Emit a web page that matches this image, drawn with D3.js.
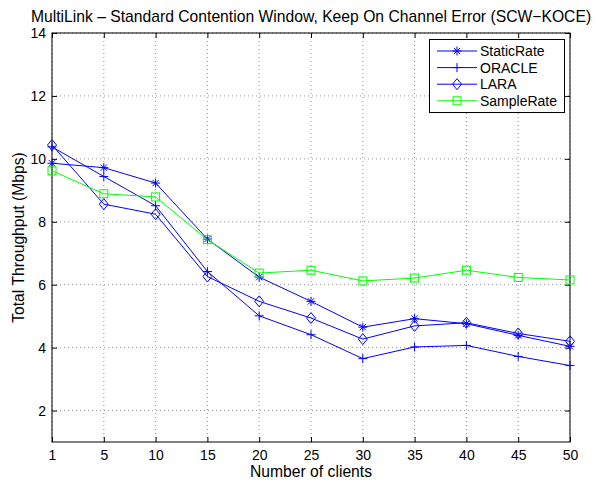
<!DOCTYPE html>
<html>
<head>
<meta charset="utf-8">
<script src="https://cdn.jsdelivr.net/npm/d3@7"></script>
<style>
  body { margin: 0; background: #fff; }
  svg { display: block; font-family: "Liberation Sans", Arial, sans-serif; }
</style>
</head>
<body>
<svg id="chart"></svg>
<script>
const clients = ["1", "5", "10", "15", "20", "25", "30", "35", "40", "45", "50"];
const staticRate = [9.86, 9.72, 9.23, 7.45, 6.24, 5.47, 4.65, 4.92, 4.76, 4.39, 4.04];
const oracle = [10.38, 9.44, 8.51, 6.42, 5.01, 4.41, 3.65, 4.02, 4.07, 3.72, 3.43];
const lara = [10.44, 8.56, 8.24, 6.26, 5.47, 4.94, 4.27, 4.69, 4.79, 4.45, 4.2];
const sampleRate = [9.62, 8.89, 8.79, 7.43, 6.37, 6.46, 6.12, 6.21, 6.46, 6.23, 6.15];
const yTicks = [2, 4, 6, 8, 10, 12, 14];

const series = [
  { name: "StaticRate", values: staticRate, color: "#0000ff", marker: "star" },
  { name: "ORACLE", values: oracle, color: "#0000ff", marker: "plus" },
  { name: "LARA", values: lara, color: "#0000ff", marker: "diamond" },
  { name: "SampleRate", values: sampleRate, color: "#00ff00", marker: "square" }
];

const width = 597, height = 483;
const plotL = 52, plotR = 570, plotT = 33, plotB = 442;

const svg = d3.select("#chart").attr("width", width).attr("height", height);

const x = d3.scalePoint().domain(clients).range([plotL, plotR]);
const y = d3.scaleLinear().domain([1, 14]).range([plotB, plotT]);

// grid (dotted)
const grid = svg.append("g");
grid.selectAll(".gx")
  .data(clients)
  .enter()
  .append("line")
  .attr("x1", d => x(d)).attr("x2", d => x(d))
  .attr("y1", plotT).attr("y2", plotB)
  .attr("stroke", "#777").attr("stroke-width", 0.8)
  .attr("stroke-dasharray", "1,3");
grid.selectAll(".gy")
  .data(yTicks)
  .enter()
  .append("line")
  .attr("x1", plotL).attr("x2", plotR)
  .attr("y1", d => y(d)).attr("y2", d => y(d))
  .attr("stroke", "#777").attr("stroke-width", 0.8)
  .attr("stroke-dasharray", "1,3");

// axes with inward ticks
const axisStyle = g => {
  g.select(".domain").remove();
  g.selectAll("line").attr("stroke", "#000");
  g.selectAll("text").attr("font-size", "14px").attr("fill", "#000");
};

svg.append("g")
  .attr("transform", `translate(0,${plotB})`)
  .call(d3.axisBottom(x).tickSize(-5).tickPadding(8))
  .call(axisStyle);
svg.append("g")
  .attr("transform", `translate(0,${plotT})`)
  .call(d3.axisTop(x).tickSize(-5).tickFormat(""))
  .call(axisStyle);
svg.append("g")
  .attr("transform", `translate(${plotL},0)`)
  .call(d3.axisLeft(y).tickValues(yTicks).tickSize(-5).tickPadding(6))
  .call(axisStyle);
svg.append("g")
  .attr("transform", `translate(${plotR},0)`)
  .call(d3.axisRight(y).tickValues(yTicks).tickSize(-5).tickFormat(""))
  .call(axisStyle);

svg.append("rect")
  .attr("x", plotL).attr("y", plotT)
  .attr("width", plotR - plotL).attr("height", plotB - plotT)
  .attr("fill", "none").attr("stroke", "#000").attr("stroke-width", 1);

// markers
function drawMarker(g, type, color) {
  const s = 4.5;
  if (type === "star") {
    g.append("path")
      .attr("d", `M${-s},0H${s}M0,${-s}V${s}M${-s * 0.7},${-s * 0.7}L${s * 0.7},${s * 0.7}M${-s * 0.7},${s * 0.7}L${s * 0.7},${-s * 0.7}`)
      .attr("stroke", color).attr("fill", "none").attr("stroke-width", 1);
  } else if (type === "plus") {
    g.append("path")
      .attr("d", `M${-s},0H${s}M0,${-s}V${s}`)
      .attr("stroke", color).attr("fill", "none").attr("stroke-width", 1);
  } else if (type === "diamond") {
    g.append("path")
      .attr("d", `M0,${-5.5}L4.5,0L0,5.5L-4.5,0Z`)
      .attr("stroke", color).attr("fill", "none").attr("stroke-width", 1);
  } else if (type === "square") {
    g.append("rect")
      .attr("x", -4).attr("y", -4).attr("width", 8).attr("height", 8)
      .attr("stroke", color).attr("fill", "none").attr("stroke-width", 1);
  }
}

const line = d3.line().x((d, i) => x(clients[i])).y(d => y(d));

series.forEach(s => {
  svg.append("path")
    .datum(s.values)
    .attr("d", line)
    .attr("fill", "none")
    .attr("stroke", s.color)
    .attr("stroke-width", 1);
  s.values.forEach((v, i) => {
    const g = svg.append("g").attr("transform", `translate(${x(clients[i])},${y(v)})`);
    drawMarker(g, s.marker, s.color);
  });
});

// legend
const lg = svg.append("g");
lg.append("rect")
  .attr("x", 429.5).attr("y", 39.5)
  .attr("width", 135).attr("height", 73)
  .attr("fill", "#fff").attr("stroke", "#000").attr("stroke-width", 1);
series.forEach((s, i) => {
  const ly = 51 + i * 16.6;
  lg.append("line")
    .attr("x1", 437).attr("x2", 477)
    .attr("y1", ly).attr("y2", ly)
    .attr("stroke", s.color).attr("stroke-width", 1);
  drawMarker(lg.append("g").attr("transform", `translate(457,${ly})`), s.marker, s.color);
  lg.append("text")
    .attr("x", 480).attr("y", ly)
    .attr("dy", "0.35em")
    .attr("font-size", "14px")
    .text(s.name);
});

// titles
svg.append("text")
  .attr("x", (plotL + plotR) / 2).attr("y", 21.5)
  .attr("text-anchor", "middle")
  .attr("font-size", "15.7px")
  .text("MultiLink \u2013 Standard Contention Window, Keep On Channel Error (SCW\u2212KOCE)");

svg.append("text")
  .attr("x", (plotL + plotR) / 2).attr("y", 476.5)
  .attr("text-anchor", "middle")
  .attr("font-size", "15.7px")
  .text("Number of clients");

svg.append("text")
  .attr("transform", `translate(23.5,${(plotT + plotB) / 2}) rotate(-90)`)
  .attr("text-anchor", "middle")
  .attr("font-size", "15.7px")
  .text("Total Throughput (Mbps)");
</script>
</body>
</html>
